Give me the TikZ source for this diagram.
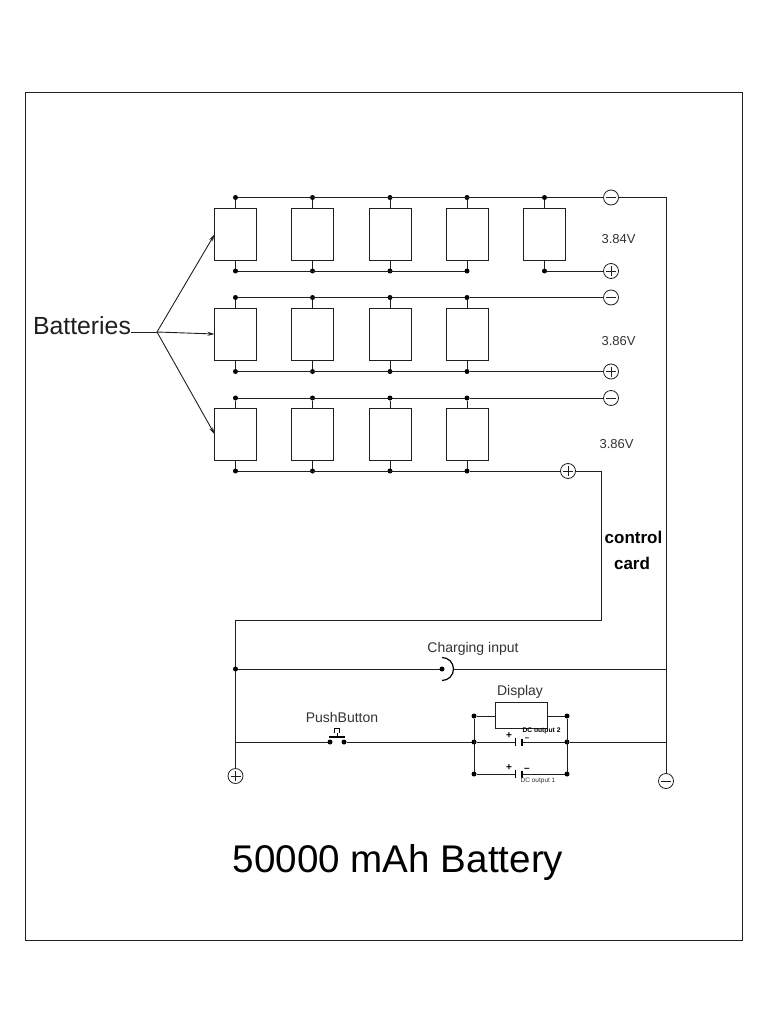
\documentclass[tikz,border=0pt]{standalone}
\usepackage{fontspec}
\setmainfont{Liberation Sans}
\usetikzlibrary{arrows.meta}
\definecolor{wire}{gray}{0.12}
\definecolor{label}{gray}{0.2}
\tikzset{
    wiring/.style={draw=wire, line width=1pt},
    cell/.style={draw=wire, line width=1pt, minimum width=42pt, minimum height=52pt, inner sep=0pt, outer sep=0pt},
    dot/.style={circle, fill=black, minimum size=5pt, inner sep=0pt, outer sep=0pt},
    sign/.style={circle, draw=wire, line width=0.8pt, minimum size=15pt, inner sep=0pt, outer sep=0pt},
    minus/.style={sign, path picture={\draw [line width=0.7pt] ([xshift=-5pt]path picture bounding box.center) -- ([xshift=5pt]path picture bounding box.center);}},
    plus/.style={sign, path picture={
        \draw [line width=0.7pt] ([xshift=-5pt]path picture bounding box.center) -- ([xshift=5pt]path picture bounding box.center);
        \draw [line width=0.7pt] ([yshift=-5pt]path picture bounding box.center) -- ([yshift=5pt]path picture bounding box.center);}},
    small/.style={text=label, font=\fontsize{14}{16}\selectfont, inner sep=0pt},
    volts/.style={text=label, font=\fontsize{13}{15}\selectfont, inner sep=0pt},
    tiny sign/.style={font=\bfseries\fontsize{10}{10}\selectfont, inner sep=0pt, text height=1.5pt, text depth=0pt}
}

\begin{document}
\begin{tikzpicture}[x=1pt, y=-1pt, >={Stealth[length=7pt, width=4pt]}]
    \useasboundingbox (0,0) rectangle (768,1024);
    \draw [line width=0.8pt, draw=wire] (25,92) rectangle (742,940);

    % battery rows: top rail, cell centre, bottom rail
    \foreach \row/\ytop/\ymid/\ybot in {1/197.5/234.5/271, 2/297.5/334/371.5, 3/398/434/471} {
        \foreach \col/\x in {1/235.5, 2/312.5, 3/390, 4/467} {
            \node [cell] (c\row-\col) at (\x,\ymid) {};
            \node [dot] (t\row-\col) at (\x,\ytop) {};
            \node [dot] (b\row-\col) at (\x,\ybot) {};
            \draw [wiring] (t\row-\col) -- (c\row-\col);
            \draw [wiring] (c\row-\col) -- (b\row-\col);
        }
    }
    \node [cell] (c1-5) at (544.5,234.5) {};
    \node [dot] (t1-5) at (544.5,197.5) {};
    \node [dot] (b1-5) at (544.5,271) {};
    \draw [wiring] (t1-5) -- (c1-5);
    \draw [wiring] (c1-5) -- (b1-5);

    \node [minus] (m1) at (611,197.5) {};
    \node [plus] (p1) at (611,271) {};
    \node [minus] (m2) at (611,297.5) {};
    \node [plus] (p2) at (611,371.5) {};
    \node [minus] (m3) at (611,398) {};
    \node [plus] (p3) at (568,471) {};

    \draw [wiring] (t1-1) -- (t1-5) -- (m1);
    \draw [wiring] (b1-1) -- (b1-4);
    \draw [wiring] (b1-5) -- (p1);
    \draw [wiring] (t2-1) -- (t2-4) -- (m2);
    \draw [wiring] (b2-1) -- (b2-4) -- (p2);
    \draw [wiring] (t3-1) -- (t3-4) -- (m3);
    \draw [wiring] (b3-1) -- (b3-4) -- (p3);

    \node [volts] (v1) at (618.5,239) {3.84V};
    \node [volts] (v2) at (618.5,341) {3.86V};
    \node [volts] (v3) at (616.5,444) {3.86V};

    % label and its arrows
    \node [font=\fontsize{24.8}{26}\selectfont, text=wire, inner sep=0pt] (batt) at (82,326) {Batteries};
    \coordinate (fork) at (157,332);
    \draw [line width=0.9pt, draw=wire] (131,332) -- (fork);
    \draw [->, line width=0.9pt, draw=wire] (fork) -- (c1-1.west);
    \draw [->, line width=0.9pt, draw=wire] (fork) -- (c2-1.west);
    \draw [->, line width=0.9pt, draw=wire] (fork) -- (c3-1.west);

    % control card
    \coordinate (cr1) at (601,471);
    \coordinate (cr2) at (601,620);
    \coordinate (cr3) at (235.5,620);
    \node [font=\bfseries\fontsize{17}{19}\selectfont, inner sep=0pt] (card1) at (633.5,537.5) {control};
    \node [font=\bfseries\fontsize{17}{19}\selectfont, inner sep=0pt] (card2) at (632,563) {card};

    \node [plus] (pout) at (235.5,776) {};
    \node [minus] (mout) at (666,781) {};
    \coordinate (mr) at (666,197.5);
    \draw [wiring] (p3) -- (cr1) -- (cr2) -- (cr3) -- (pout);
    \draw [wiring] (m1) -- (mr) -- (mout);

    % charging input
    \node [dot] (in0) at (235.5,669) {};
    \node [dot] (jack) at (442,669) {};
    \coordinate (jackr) at (454,669);
    \coordinate (in1) at (666,669);
    \draw [wiring] (in0) -- (jack);
    \draw [wiring] (jackr) -- (in1);
    \draw [line width=1.2pt] (442,657.5) arc (-90:90:11.5);
    \node [small] (inlabel) at (473,649) {Charging input};

    % push button
    \coordinate (l0) at (235.5,742);
    \coordinate (r0) at (666,742);
    \node [dot] (pb1) at (330,742) {};
    \node [dot] (pb2) at (344,742) {};
    \draw [wiring] (l0) -- (pb1);
    \draw [line width=1.2pt] (329,737) -- (345,737);
    \draw [line width=1pt] (337,737) -- (337,733) (334.5,733) -- (334.5,728.5) -- (339.5,728.5) -- (339.5,733);
    \node [small] (pblabel) at (342,717) {PushButton};

    % display and outputs
    \node [dot] (d1) at (474,716) {};
    \node [dot] (d2) at (567,716) {};
    \node [dot] (d3) at (474,742) {};
    \node [dot] (d4) at (567,742) {};
    \node [dot] (d5) at (474,774) {};
    \node [dot] (d6) at (567,774) {};
    \node [draw=wire, line width=1pt, minimum width=52pt, minimum height=25.5pt, inner sep=0pt, outer sep=0pt] (disp) at (521,715.5) {};
    \node [small] (displabel) at (520,692) {Display};
    \draw [wiring] (pb2) -- (d3);
    \draw [wiring] (d1) -- (d2 -| disp.west);
    \draw [wiring] (d2 -| disp.east) -- (d2);
    \draw [wiring] (d1) -- (d5);
    \draw [wiring] (d2) -- (d6);
    \draw [wiring] (d4) -- (r0);

    % two output cells
    \foreach \name/\y/\from/\to in {u/742/d3/d4, w/774/d5/d6} {
        \coordinate (\name a) at (515,\y);
        \coordinate (\name b) at (522,\y);
        \draw [wiring] (\from) -- (\name a);
        \draw [wiring] (\name b) -- (\to);
        \draw [line width=0.9pt] (515,\y-4) -- (515,\y+4);
        \draw [line width=2pt] (522,\y-3.5) -- (522,\y+3.5);
    }
    \node [tiny sign] (up) at (509,737.5) {+};
    \node [tiny sign, font=\bfseries\fontsize{8}{8}\selectfont] (um) at (527,740) {--};
    \node [tiny sign] (wp) at (509,770) {+};
    \node [tiny sign] (wm) at (527,771) {--};
    \node [font=\bfseries\fontsize{6.7}{7}\selectfont, inner sep=0pt] (o2) at (541.5,731) {DC output 2};
    \node [text=label, font=\fontsize{6.5}{7}\selectfont, inner sep=0pt] (o1) at (538,780.5) {DC output 1};

    \node [font=\fontsize{38.6}{40}\selectfont, text=black, inner sep=0pt] (title) at (398,863) {50000 mAh Battery};
\end{tikzpicture}
\end{document}
